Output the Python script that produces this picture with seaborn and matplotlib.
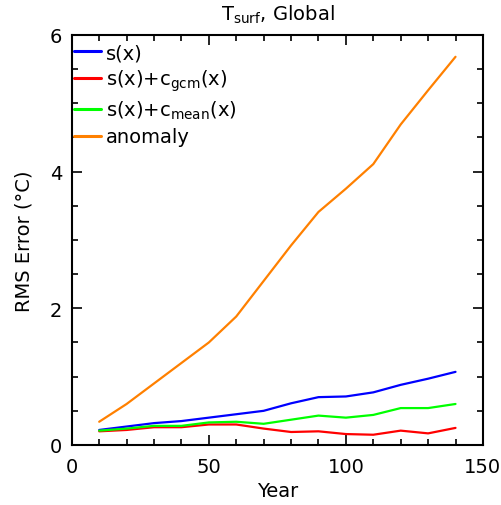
import numpy as np
import pandas as pd
import matplotlib
matplotlib.use("Agg")
import matplotlib.pyplot as plt
from matplotlib.ticker import MultipleLocator
import seaborn as sns

year = [10, 20, 30, 40, 50, 60, 70, 80, 90, 100, 110, 120, 130, 140]
s_x = [0.22, 0.27, 0.32, 0.35, 0.40, 0.45, 0.50, 0.61, 0.70, 0.71, 0.77, 0.88, 0.97, 1.07]
s_gcm = [0.20, 0.22, 0.26, 0.26, 0.30, 0.30, 0.24, 0.19, 0.20, 0.16, 0.15, 0.21, 0.17, 0.25]
s_mean = [0.21, 0.24, 0.28, 0.28, 0.33, 0.34, 0.31, 0.37, 0.43, 0.40, 0.44, 0.54, 0.54, 0.60]
anomaly = [0.34, 0.60, 0.90, 1.20, 1.50, 1.88, 2.40, 2.92, 3.41, 3.75, 4.11, 4.69, 5.19, 5.68]

labels = ["s(x)", "s(x)+c$_{gcm}$(x)", "s(x)+c$_{mean}$(x)", "anomaly"]
colors = ["#0000ff", "#ff0000", "#00ff00", "#ff8000"]

sns.set_style("ticks")
plt.rcParams["font.family"] = ["DejaVu Sans"]
plt.rcParams["mathtext.default"] = "regular"
plt.rcParams["text.color"] = "black"
plt.rcParams["axes.labelcolor"] = "black"
plt.rcParams["xtick.color"] = "black"
plt.rcParams["ytick.color"] = "black"
plt.rcParams["axes.edgecolor"] = "black"

df = pd.DataFrame({
    "Year": year * 4,
    "RMS": s_x + s_gcm + s_mean + anomaly,
    "series": [labels[0]] * len(year) + [labels[1]] * len(year)
              + [labels[2]] * len(year) + [labels[3]] * len(year),
})

fig = plt.figure(figsize=(5.02, 5.06), dpi=100)
ax = fig.add_axes([0.143, 0.1186, 0.819, 0.8104])

sns.lineplot(data=df, x="Year", y="RMS", hue="series", hue_order=labels,
             palette=colors, linewidth=1.6, ax=ax)

ax.set_xlim(0, 150)
ax.set_ylim(0, 6)
ax.xaxis.set_major_locator(MultipleLocator(50))
ax.xaxis.set_minor_locator(MultipleLocator(10))
ax.yaxis.set_major_locator(MultipleLocator(2))
ax.yaxis.set_minor_locator(MultipleLocator(0.5))
ax.tick_params(which="both", direction="in", top=True, right=True, width=1.2,
               labelsize=14)
ax.tick_params(axis="x", pad=9)
ax.tick_params(axis="y", pad=7)
ax.tick_params(which="major", length=7)
ax.tick_params(which="minor", length=4)
for sp in ax.spines.values():
    sp.set_linewidth(1.5)

ax.set_xlabel("Year", fontsize=14, labelpad=3)
ax.set_ylabel("RMS Error (°C)", fontsize=14, labelpad=12)
ax.set_title("T$_{surf}$, Global", fontsize=14, pad=11)

leg = ax.legend(loc="upper left", bbox_to_anchor=(0.0, 0.985), frameon=False,
                fontsize=14, handlelength=1.4, handletextpad=0.25,
                labelspacing=0.3, borderaxespad=0.0, borderpad=0.1)
for h in leg.get_lines():
    h.set_linewidth(2.2)

fig.savefig("out.png", dpi=100)
